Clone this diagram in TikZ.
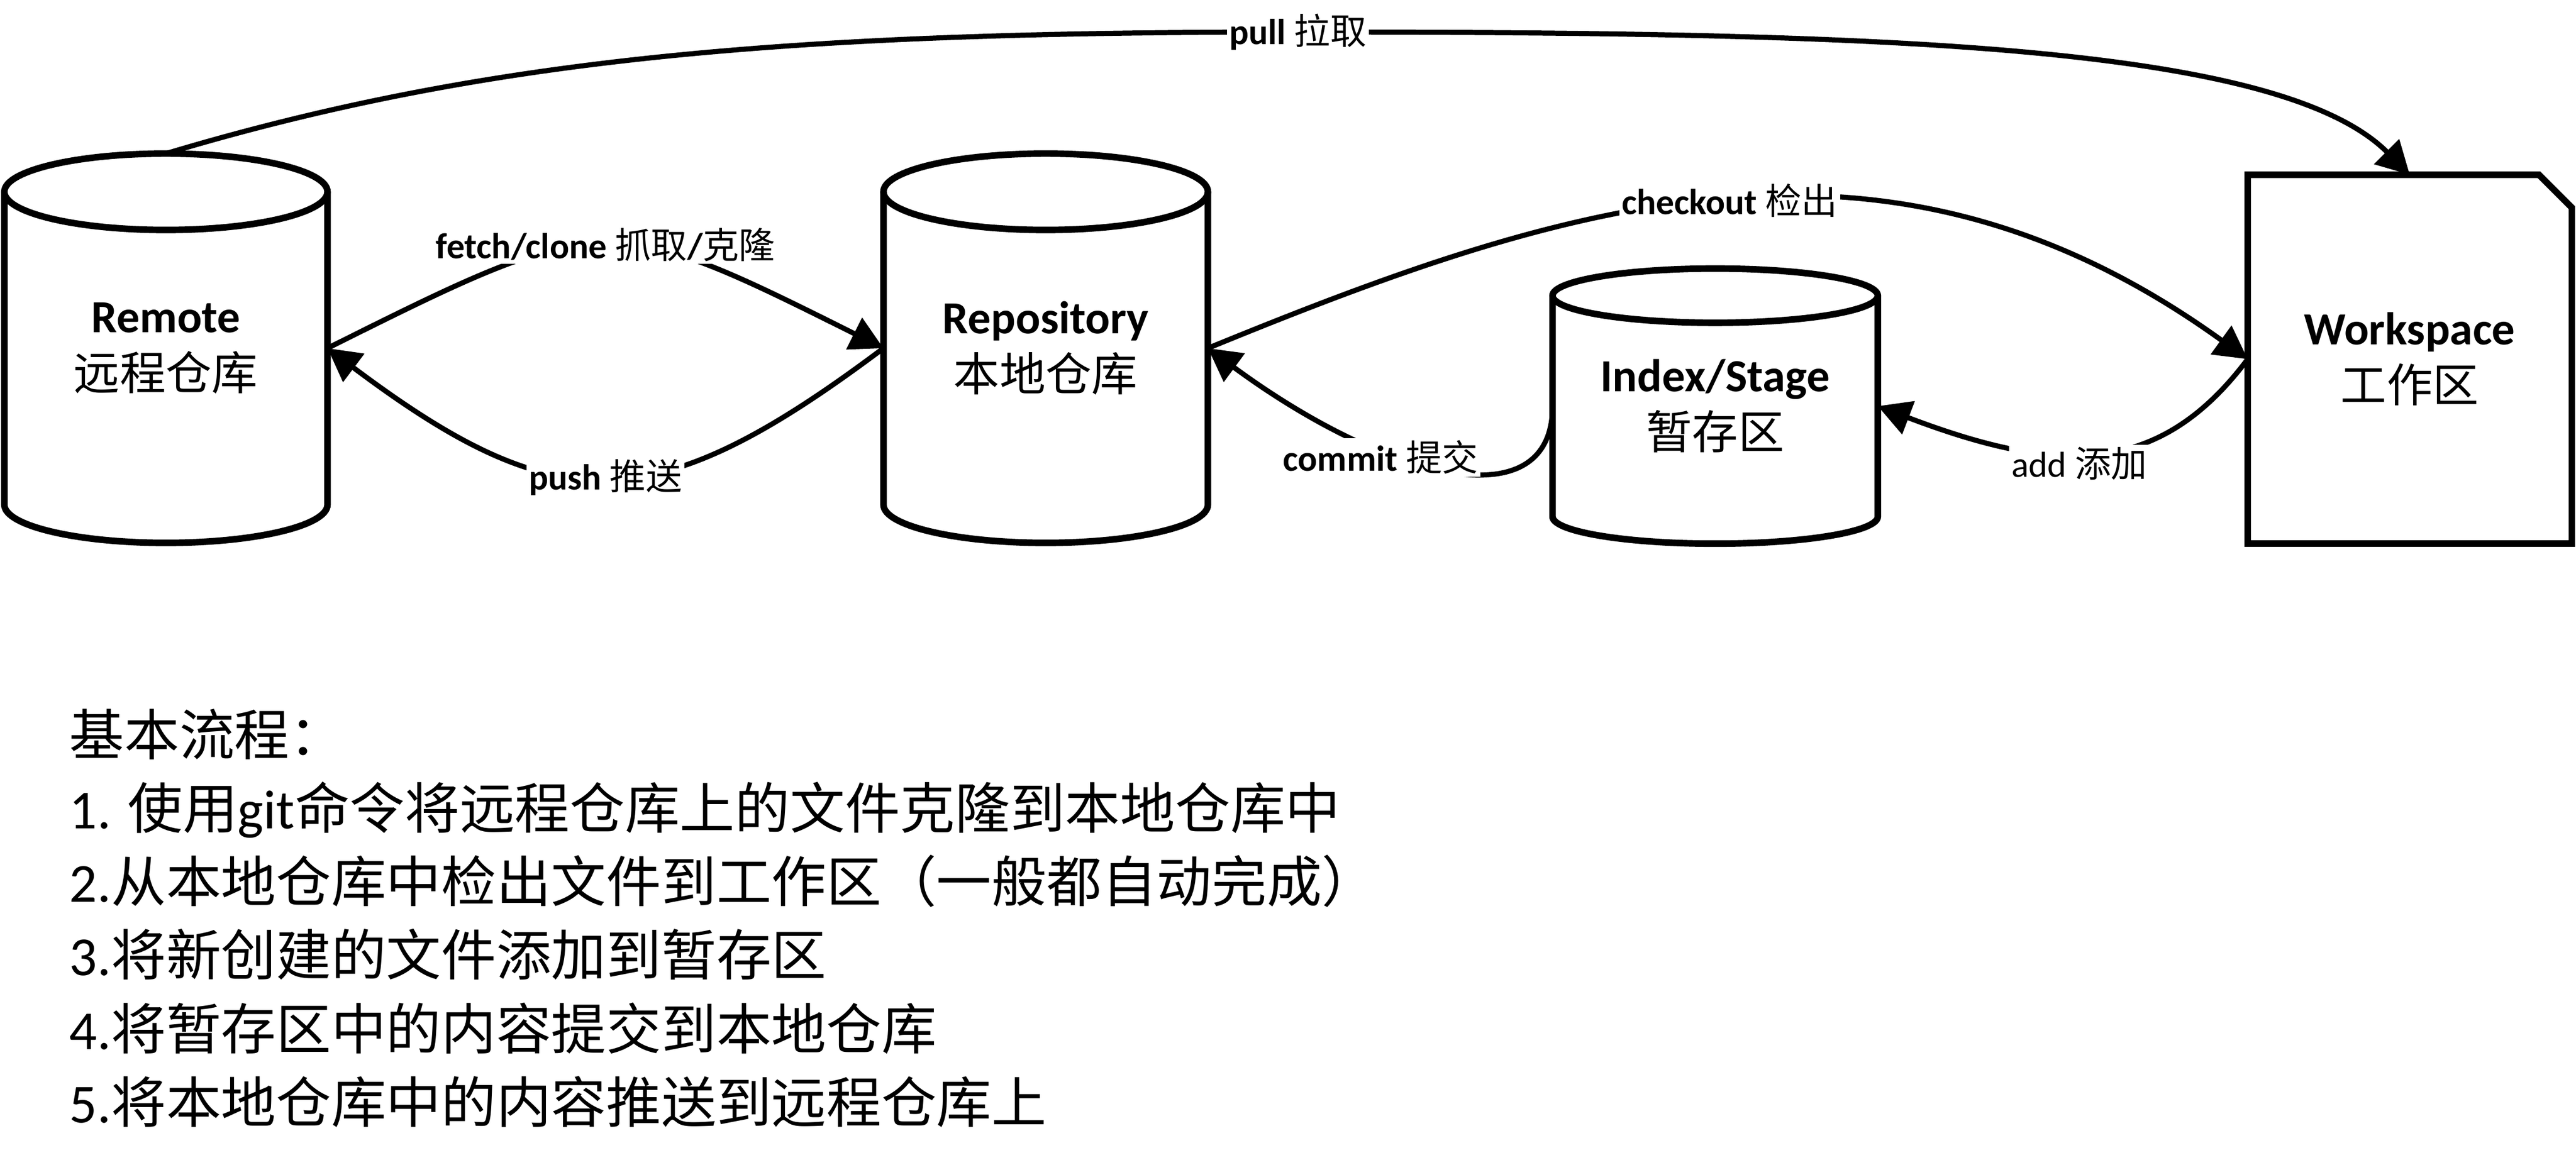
\documentclass[tikz,border=0pt]{standalone}
\usepackage{fontspec}
\setmainfont{Carlito}
\newfontfamily\cjkfont{Noto Sans CJK SC}
\newcommand\zh[1]{{\cjkfont\mdseries #1}}
\usetikzlibrary{arrows.meta}
\newcommand\drawcyl[3]{%
  \draw[outline] ([yshift=-#3pt]#1.north west) -- ([yshift=#3pt]#1.south west)
     arc[start angle=180,end angle=360,x radius=#2pt,y radius=#3pt]
     -- ([yshift=-#3pt]#1.north east);
  \draw[outline] ([yshift=-#3pt]#1.north) ellipse[x radius=#2pt, y radius=#3pt];
}
\begin{document}
\begin{tikzpicture}[x=1pt,y=1pt,
  box/.style={draw=none, inner sep=0pt, outer sep=0pt, align=center, font=\fontsize{28}{35}\selectfont},
  outline/.style={line width=4pt, line join=miter},
  conn/.style={line width=3.1pt, -{Triangle[length=20pt,width=21pt]}},
  lbl/.style={fill=white, inner sep=1.5pt, font=\fontsize{22}{26}\selectfont\bfseries},
  lblr/.style={lbl, font=\fontsize{22}{26}\selectfont\mdseries},
  steptext/.style={anchor=base west, inner sep=0pt, font=\fontsize{33.5}{40}\selectfont}
]
\useasboundingbox (0,0) rectangle (1568,709);

% nodes
\node[box, minimum width=196.7pt, minimum height=237pt] (remote) at (101,497) {\textbf{Remote}\\\zh{远程仓库}};
\node[box, minimum width=197.5pt, minimum height=237pt] (repo) at (636.5,497) {\textbf{Repository}\\\zh{本地仓库}};
\node[box, minimum width=198pt, minimum height=167.5pt] (index) at (1044,461.75) {\textbf{Index/Stage}\\\zh{暂存区}};
\node[box, minimum width=197.3pt, minimum height=224.5pt] (ws) at (1466.8,490.35) {\textbf{Workspace}\\\zh{工作区}};

% outlines
\drawcyl{remote}{98.35}{23.25}
\drawcyl{repo}{98.75}{23.25}
\drawcyl{index}{99}{16.5}
\draw[outline] (ws.south west) -- (ws.north west) -- ([xshift=-20pt]ws.north east)
  -- ([yshift=-20pt]ws.north east) -- (ws.south east) -- cycle;

% connectors
\coordinate (pullmid) at (790,689.5);
\draw[conn] (remote.north) .. controls +(200,60) and +(-300,0) .. (pullmid) node[lbl]{pull \zh{拉取}}
  .. controls +(350,0) and +(-80,80) .. (ws.north);
\draw[conn] (remote.east) .. controls +(168,84) and +(-168,84) .. (repo.west)
  node[lbl,pos=0.5]{fetch/clone \zh{抓取}/\zh{克隆}};
\draw[conn] (repo.west) .. controls +(-140,-105) and +(140,-105) .. (remote.east)
  node[lbl,pos=0.5]{push \zh{推送}};
\draw[conn] (repo.east) .. controls +(222,91) and +(-219,158) .. (ws.west)
  node[lbl,pos=0.5]{checkout \zh{检出}};
\draw[conn] (index.west) .. controls +(0,-70) and +(110,-81) .. (repo.east)
  node[lbl,pos=0.66,yshift=-5pt]{commit \zh{提交}};
\draw[conn] (ws.west) .. controls +(-54,-72) and +(110,-41.8) .. (index.east)
  node[lblr,pos=0.55,yshift=-6pt]{add \zh{添加}};

% steps text
\node[steptext] (s0) at (42,249.3) {\zh{基本流程：}};
\node[steptext] (s1) at (42,204.55) {1. \zh{使用}git\zh{命令将远程仓库上的文件克隆到本地仓库中}};
\node[steptext] (s2) at (42,159.8) {2.\zh{从本地仓库中检出文件到工作区（一般都自动完成）}};
\node[steptext] (s3) at (42,115.05) {3.\zh{将新创建的文件添加到暂存区}};
\node[steptext] (s4) at (42,70.3) {4.\zh{将暂存区中的内容提交到本地仓库}};
\node[steptext] (s5) at (42,25.55) {5.\zh{将本地仓库中的内容推送到远程仓库上}};
\end{tikzpicture}
\end{document}
